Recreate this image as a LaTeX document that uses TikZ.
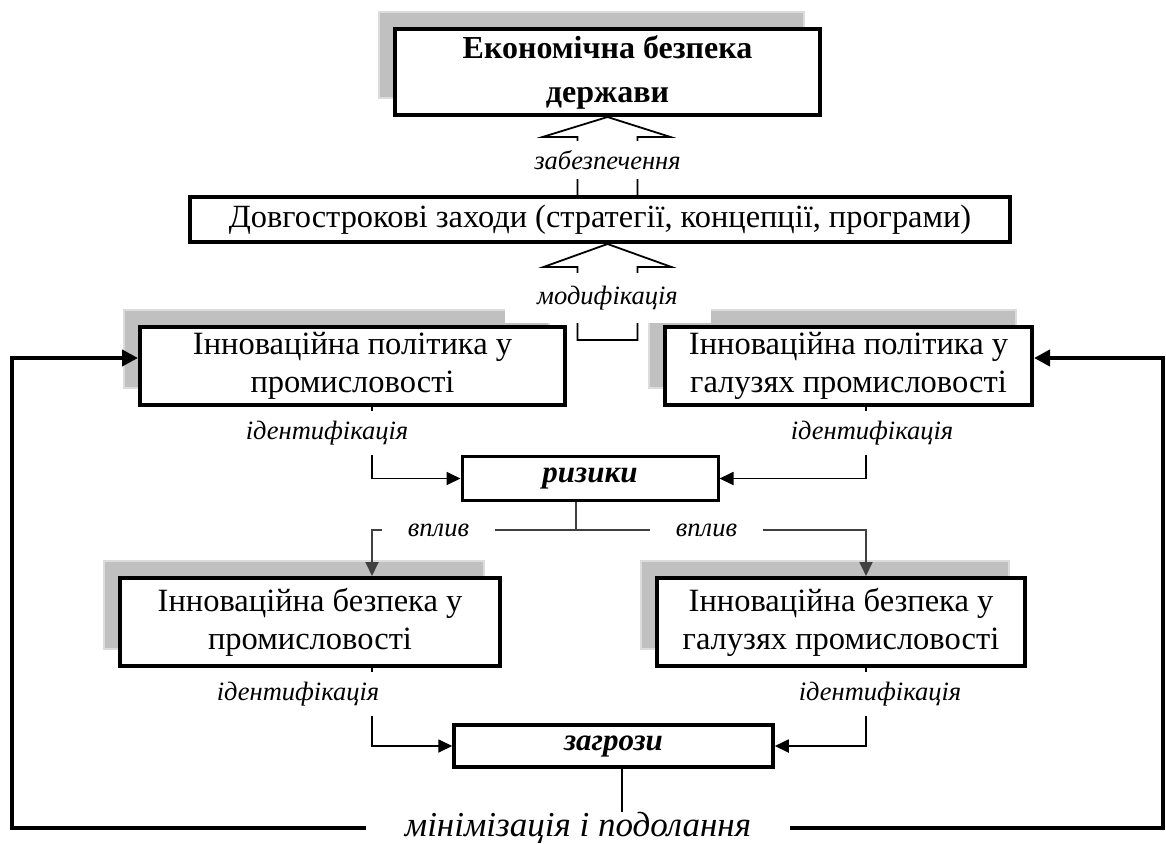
\documentclass[tikz,border=0pt]{standalone}
\usepackage{fontspec}
\setmainfont{Liberation Serif}
\usetikzlibrary{arrows.meta,shadows,calc}

\definecolor{shadowgray}{HTML}{C0C0C0}
\definecolor{shadowedge}{HTML}{DCDCDC}
\definecolor{impactgray}{HTML}{404040}

\tikzset{
  box/.style={draw, line width=4pt, fill=white, align=center, inner sep=0pt,
    font=\fontsize{32.5}{38}\selectfont},
  shadowed/.style={drop shadow={shadow xshift=-16pt, shadow yshift=17pt,
    fill=shadowgray, draw=shadowedge, line width=1.2pt, opacity=1}},
  lab/.style={font=\fontsize{26.5}{30}\selectfont\itshape, inner sep=0pt},
  link/.style={line width=1.8pt, >={Triangle[length=14pt,width=13pt]}},
  impact/.style={link, draw=impactgray},
  fback/.style={line width=4pt, >={Triangle[length=16pt,width=16pt]}}
}

\begin{document}
\begin{tikzpicture}[x=1pt,y=-1pt]

  \useasboundingbox (0,0) rectangle (1166,843);

  % boxes
  \node[box, shadowed, minimum width=425pt, minimum height=86pt,
    font=\fontsize{32}{44}\selectfont\bfseries] (econ) at (607.5,72) {Економічна безпека\\держави};
  \node[box, minimum width=820pt, minimum height=45pt, font=\fontsize{32.4}{37}\selectfont]
    (plan) at (600,219.5) {Довгострокові заходи (стратегії, концепції, програми)};
  \node[box, shadowed, minimum width=425pt, minimum height=78pt] (pol1) at (352.5,366)
    {Інноваційна політика у\\промисловості};
  \node[box, shadowed, minimum width=367pt, minimum height=78pt] (pol2) at (848.5,366)
    {Інноваційна політика у\\галузях промисловості};
  \node[box, line width=3pt, minimum width=256pt, minimum height=44pt,
    font=\fontsize{31}{36}\selectfont\bfseries\itshape] (risk) at (590,478.5) {ризики};
  \node[box, shadowed, minimum width=380pt, minimum height=88pt] (sec1) at (310,622)
    {Інноваційна безпека у\\промисловості};
  \node[box, shadowed, minimum width=368pt, minimum height=88pt] (sec2) at (841,622)
    {Інноваційна безпека у\\галузях промисловості};
  \node[box, line width=3.5pt, minimum width=319pt, minimum height=42pt,
    font=\fontsize{31}{36}\selectfont\bfseries\itshape] (threat) at (613.5,746) {загрози};
  \node[font=\fontsize{35}{38}\selectfont\itshape, inner ysep=0pt, inner xsep=39pt]
    (minlab) at (578,828) {мінімізація і подолання};

  % hollow arrows
  \coordinate (zt) at (econ.south);
  \coordinate (zm) at (zt |- plan.south);
  \draw[link] ($(zt |- plan.north)+(-30,0)$) -- ($(zt)+(-30,20)$) -- ($(zt)+(-65,20)$) -- (zt)
    -- ($(zt)+(63,20)$) -- ($(zt)+(30,20)$) -- ($(zt |- plan.north)+(30,0)$);
  \draw[link] ($(zm)+(-30,96)$) -- ($(zm)+(-30,23)$) -- ($(zm)+(-64,23)$) -- (zm)
    -- ($(zm)+(64,23)$) -- ($(zm)+(30,23)$) -- ($(zm)+(30,96)$) -- cycle;

  % identification and impact
  \draw[link,->] ([xshift=19.5pt]pol1.south) |- (risk.west);
  \draw[link,->] ([xshift=17.5pt]pol2.south) |- (risk.east);
  \draw[impact,->] ([xshift=-14pt]risk.south) -- ++(0,28) -| ([xshift=62pt]sec1.north);
  \draw[impact,->] ([xshift=-14pt]risk.south) -- ++(0,28) -| ([xshift=25pt]sec2.north);
  \draw[link,->] ([xshift=62pt]sec1.south) |- (threat.west);
  \draw[link,->] ([xshift=25pt]sec2.south) |- (threat.east);
  \draw[link] ([xshift=8.5pt]threat.south) -- ([xshift=8.5pt]threat.south |- minlab.north);

  % feedback
  \coordinate (fbl) at (12,828);
  \coordinate (fbr) at (1163,828);
  \draw[fback,->] (minlab.west) -- (fbl) |- ([yshift=8pt]pol1.west);
  \draw[fback,->] (minlab.east) -- (fbr) |- ([yshift=8pt]pol2.east);

  % labels
  \node[lab, fill=white, minimum height=38pt] at ($(zt)+(0,43)$) {забезпечення};
  \node[lab, fill=white, minimum width=206pt, minimum height=50pt] at ($(zm)+(0,54)$) {модифікація};
  \node[lab, fill=white, minimum height=44pt] at ($(pol1.south)+(-25.5,26)$) {ідентифікація};
  \node[lab, fill=white, minimum height=44pt] at ($(pol2.south)+(23.5,26)$) {ідентифікація};
  \foreach \x in {438.5,706.5}
    \node[lab, fill=white, minimum width=113pt, minimum height=30pt] at (\x,530) {вплив};
  \node[lab, fill=white, minimum height=44pt] at ($(sec1.south)+(-12,26)$) {ідентифікація};
  \node[lab, fill=white, minimum height=44pt] at ($(sec2.south)+(39,26)$) {ідентифікація};

\end{tikzpicture}
\end{document}
